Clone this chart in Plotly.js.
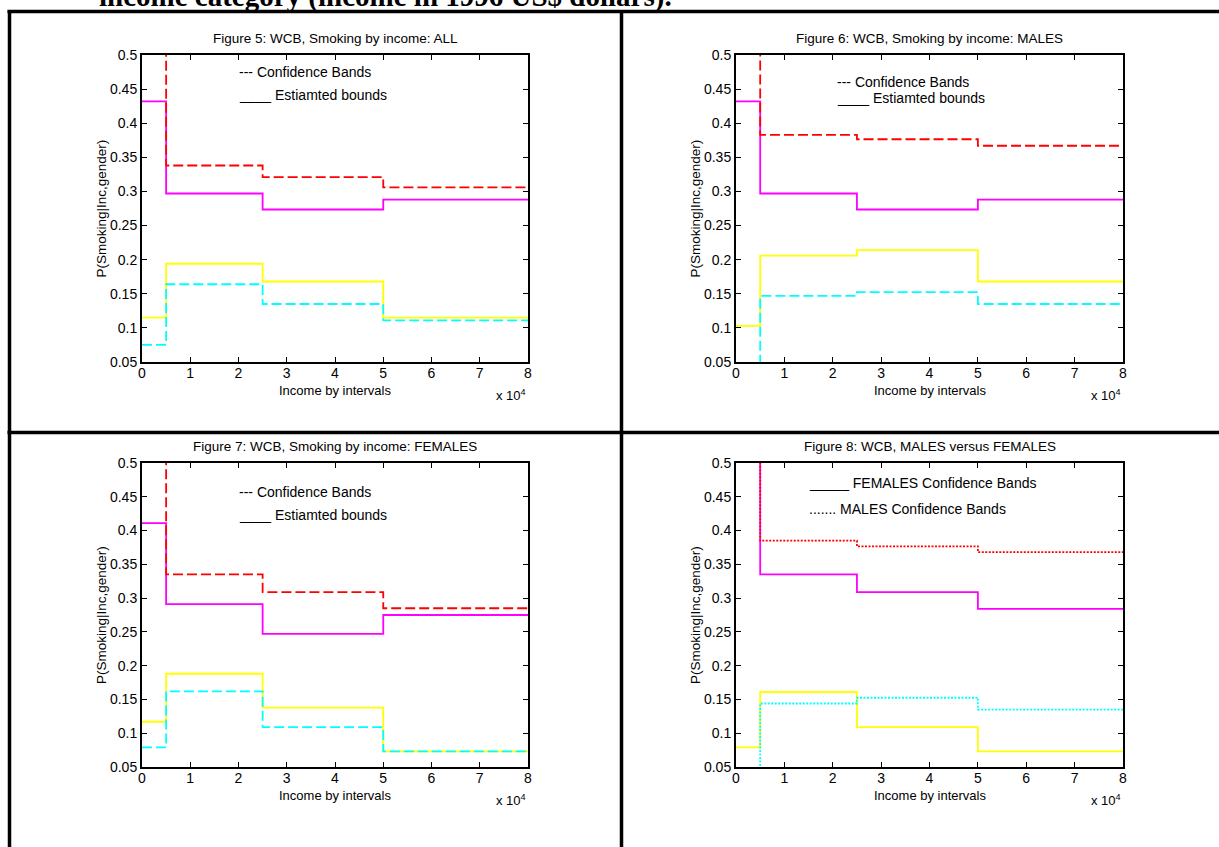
<!DOCTYPE html>
<html>
<head>
<meta charset="utf-8">
<script src="https://cdn.plot.ly/plotly-3.0.1.min.js"></script>
<style>
  html, body { margin: 0; padding: 0; background: #ffffff; }
  #chart { width: 1219px; height: 847px; }
</style>
</head>
<body>
<div id="chart"></div>
<script>
// ---------- data ----------
const incomeEdges = [0, 5000, 25000, 50000, 80000];   // interval boundaries (income, US$)
const xTickVals = [0, 10000, 20000, 30000, 40000, 50000, 60000, 70000, 80000];
const xTickText = ["0", "1", "2", "3", "4", "5", "6", "7", "8"];
const yTickVals = [0.05, 0.1, 0.15, 0.2, 0.25, 0.3, 0.35, 0.4, 0.45, 0.5];
const yTickText = ["0.05", "0.1", "0.15", "0.2", "0.25", "0.3", "0.35", "0.4", "0.45", "0.5"];

const panelTitles = [
  "Figure 5: WCB, Smoking by income: ALL",
  "Figure 6: WCB, Smoking by income: MALES",
  "Figure 7: WCB, Smoking by income: FEMALES",
  "Figure 8: WCB, MALES versus FEMALES"
];

// Figure 5: ALL
const allUpperCB  = [0.60, 0.338, 0.321, 0.306];
const allUpperEst = [0.432, 0.297, 0.2735, 0.288];
const allLowerEst = [0.115, 0.194, 0.168, 0.115];
const allLowerCB  = [0.075, 0.164, 0.135, 0.111];

// Figure 6: MALES
const maleUpperCB  = [0.60, 0.383, 0.3765, 0.367];
const maleUpperEst = [0.432, 0.297, 0.2735, 0.288];
const maleLowerEst = [0.103, 0.206, 0.214, 0.168];
const maleLowerCB  = [0.02, 0.147, 0.1525, 0.135];

// Figure 7: FEMALES
const femUpperCB  = [0.60, 0.335, 0.309, 0.285];
const femUpperEst = [0.411, 0.291, 0.247, 0.275];
const femLowerEst = [0.117, 0.188, 0.138, 0.073];
const femLowerCB  = [0.079, 0.162, 0.109, 0.073];

// Figure 8: MALES versus FEMALES (confidence bands)
const cmpFemUpper  = [0.60, 0.335, 0.309, 0.284];
const cmpFemLower  = [0.079, 0.161, 0.109, 0.073];
const cmpMaleUpper = [0.60, 0.385, 0.3765, 0.368];
const cmpMaleLower = [0.02, 0.144, 0.1525, 0.135];

// ---------- layout helpers ----------
const W = 1219, H = 847;
const px = v => v / W;
const py = v => 1 - v / H;
const FONT = "Liberation Sans, Arial, Helvetica, sans-serif";

const RED = "#ff0000", MAG = "#ff00ff", YEL = "#ffff00", CYA = "#00ffff";
const DASH = "10px,4px", DOT = "2px,1.5px";

function step(vals, color, dash, ax) {
  const s = ax === 1 ? "" : String(ax);
  return {
    type: "scatter", mode: "lines",
    x: incomeEdges.slice(),
    y: vals.concat([vals[vals.length - 1]]),
    line: { shape: "hv", color: color, width: 1.8, dash: dash },
    xaxis: "x" + s, yaxis: "y" + s,
    hoverinfo: "skip", showlegend: false
  };
}

const traces = [
  step(allUpperEst, MAG, "solid", 1), step(allLowerEst, YEL, "solid", 1),
  step(allUpperCB, RED, DASH, 1), step(allLowerCB, CYA, DASH, 1),
  step(maleUpperEst, MAG, "solid", 2), step(maleLowerEst, YEL, "solid", 2),
  step(maleUpperCB, RED, DASH, 2), step(maleLowerCB, CYA, DASH, 2),
  step(femUpperEst, MAG, "solid", 3), step(femLowerEst, YEL, "solid", 3),
  step(femUpperCB, RED, DASH, 3), step(femLowerCB, CYA, DASH, 3),
  step(cmpFemUpper, MAG, "solid", 4), step(cmpFemLower, YEL, "solid", 4),
  step(cmpMaleUpper, RED, DOT, 4), step(cmpMaleLower, CYA, DOT, 4)
];

// plot boxes in pixels: [left, right, top, bottom]
const boxes = [
  [142, 528, 55, 362],
  [736, 1123, 55, 362],
  [142, 528, 463, 767],
  [736, 1123, 463, 767]
];

const layout = {
  width: W, height: H,
  margin: { l: 0, r: 0, t: 0, b: 0, pad: 0 },
  paper_bgcolor: "#ffffff", plot_bgcolor: "#ffffff",
  font: { family: FONT, size: 14, color: "#000000" },
  showlegend: false,
  annotations: [],
  shapes: []
};

boxes.forEach((b, i) => {
  const n = i + 1;
  const xk = n === 1 ? "xaxis" : "xaxis" + n;
  const yk = n === 1 ? "yaxis" : "yaxis" + n;
  const xa = n === 1 ? "x" : "x" + n;
  const ya = n === 1 ? "y" : "y" + n;
  layout[xk] = {
    domain: [px(b[0]), px(b[1])], anchor: ya,
    range: [0, 80000], autorange: false,
    tickmode: "array", tickvals: xTickVals, ticktext: xTickText,
    ticks: "inside", ticklen: 5, tickwidth: 1, tickcolor: "#000",
    showline: true, linewidth: 2, linecolor: "#000", mirror: "ticks",
    showgrid: false, zeroline: false, ticklabelstandoff: -3,
    tickfont: { family: FONT, size: 14, color: "#000" }
  };
  layout[yk] = {
    domain: [py(b[3]), py(b[2])], anchor: xa,
    range: [0.05, 0.5], autorange: false,
    tickmode: "array", tickvals: yTickVals, ticktext: yTickText,
    ticks: "inside", ticklen: 5, tickwidth: 1, tickcolor: "#000",
    showline: true, linewidth: 2, linecolor: "#000", mirror: "ticks",
    showgrid: false, zeroline: false,
    tickfont: { family: FONT, size: 14, color: "#000" }
  };
  const cx = (b[0] + b[1]) / 2;
  // panel title
  layout.annotations.push({
    text: panelTitles[i], xref: "paper", yref: "paper",
    x: px(cx), y: py(b[2] - 17), xanchor: "center", yanchor: "middle",
    showarrow: false, font: { family: FONT, size: 13.5, color: "#000" }
  });
  // x-axis title
  layout.annotations.push({
    text: "Income by intervals", xref: "paper", yref: "paper",
    x: px(cx), y: py(b[3] + 28), xanchor: "center", yanchor: "middle",
    showarrow: false, font: { family: FONT, size: 13, color: "#000" }
  });
  // exponent label
  layout.annotations.push({
    text: "x 10<sup>4</sup>", xref: "paper", yref: "paper",
    x: px(b[1]), y: py(b[3] + 33), xanchor: "right", yanchor: "middle",
    showarrow: false, font: { family: FONT, size: 13, color: "#000" }
  });
  // y-axis title
  layout.annotations.push({
    text: "P(Smoking|Inc,gender)", xref: "paper", yref: "paper",
    x: px(b[0] - 41), y: py((b[2] + b[3]) / 2), xanchor: "center", yanchor: "middle",
    textangle: -90, showarrow: false, font: { family: FONT, size: 13.5, color: "#000" }
  });
});

// in-plot legend texts
function note(txt, ax, x, y) {
  layout.annotations.push({
    text: txt, xref: ax === 1 ? "x" : "x" + ax, yref: ax === 1 ? "y" : "y" + ax,
    x: x, y: y, xanchor: "left", yanchor: "middle", showarrow: false,
    font: { family: FONT, size: 14, color: "#000" }
  });
}
note("--- Confidence Bands", 1, 19700, 0.4755);
note("____ Estiamted bounds", 1, 19700, 0.441);
note("--- Confidence Bands", 2, 20400, 0.460);
note("____ Estiamted bounds", 2, 20400, 0.4365);
note("--- Confidence Bands", 3, 19700, 0.4565);
note("____ Estiamted bounds", 3, 19700, 0.4235);
note("_____ FEMALES Confidence Bands", 4, 14600, 0.4704);
note("....... MALES Confidence Bands", 4, 14600, 0.432);

// page heading (cut off at the top edge)
layout.annotations.push({
  text: "<b>income category (income in 1996 US$ dollars).</b>",
  xref: "paper", yref: "paper", x: px(97), y: py(-3),
  xanchor: "left", yanchor: "middle", showarrow: false,
  font: { family: "Liberation Serif, Times New Roman, serif", size: 29, color: "#000" }
});

// table grid lines
const gridLine = (x0, y0, x1, y1) => ({
  type: "line", xref: "paper", yref: "paper",
  x0: px(x0), y0: py(y0), x1: px(x1), y1: py(y1),
  line: { color: "#000", width: 3.5 }, layer: "above"
});
layout.shapes.push(gridLine(7.5, 11.5, 1219, 11.5));
layout.shapes.push(gridLine(7.5, 432.5, 1219, 432.5));
layout.shapes.push(gridLine(9.5, 10, 9.5, 847));
layout.shapes.push(gridLine(621.5, 10, 621.5, 847));

Plotly.newPlot("chart", traces, layout, { staticPlot: true, displayModeBar: false });
</script>
</body>
</html>
